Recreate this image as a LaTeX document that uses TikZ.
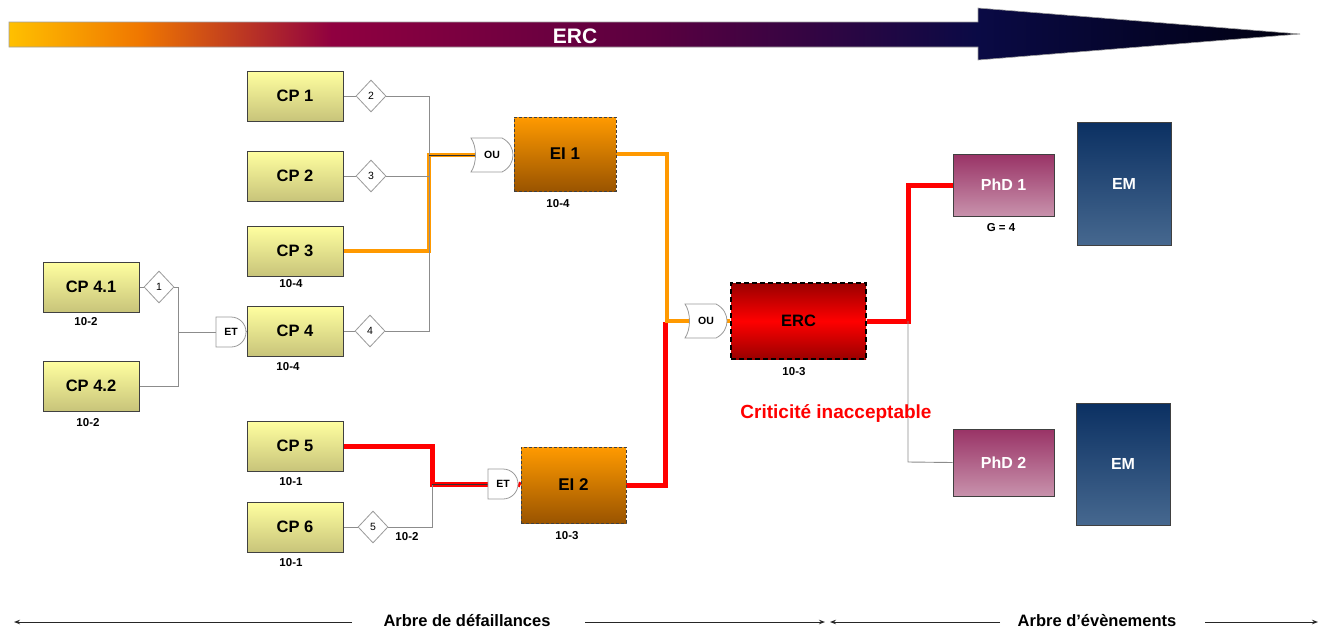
\documentclass[tikz,border=0pt]{standalone}
\usepackage{fontspec}
\setmainfont{Liberation Sans}
\usetikzlibrary{arrows.meta,shapes.geometric}
\definecolor{barA}{HTML}{FFC000}
\definecolor{barB}{HTML}{F07800}
\definecolor{barC}{HTML}{900040}
\definecolor{barD}{HTML}{5A0040}
\definecolor{barE}{HTML}{0A0A45}
\definecolor{barF}{HTML}{000010}
\definecolor{cpTop}{HTML}{FFFFA0}
\definecolor{cpBot}{HTML}{C8C47A}
\definecolor{boxline}{HTML}{404040}
\definecolor{eiTop}{HTML}{FF9A00}
\definecolor{eiBot}{HTML}{9A5400}
\definecolor{ercTop}{HTML}{9A0000}
\definecolor{ercMid}{HTML}{FF0000}
\definecolor{phdTop}{HTML}{993366}
\definecolor{phdBot}{HTML}{C892AC}
\definecolor{emTop}{HTML}{0B3062}
\definecolor{emBot}{HTML}{46688F}
\definecolor{hlOrange}{HTML}{FF9900}
\definecolor{hlRed}{HTML}{FF0000}
\definecolor{connGray}{HTML}{8C8C8C}
\definecolor{diamGray}{HTML}{9A9A9A}
\definecolor{barEdge}{HTML}{A0A0A0}
\pgfdeclarehorizontalshading{ercbar}{100bp}{color(0bp)=(barA); color(25bp)=(barA); color(30bp)=(barB); color(37.5bp)=(barC); color(50bp)=(barD); color(62.5bp)=(barE); color(75bp)=(barF); color(100bp)=(barF)}
\pgfdeclarelayer{bg}\pgfdeclarelayer{mid}\pgfsetlayers{bg,mid,main}
\newcommand\ougatepath{(-21,-17) .. controls (-15,-8) and (-15,8) .. (-21,17) -- (10,17) .. controls (18,13) and (21,6) .. (21,0) .. controls (21,-6) and (18,-13) .. (10,-17) -- cycle}
\newcommand\etgatepath{(-15,-15) -- (0,-15) .. controls (8.3,-15) and (15,-8.3) .. (15,0) .. controls (15,8.3) and (8.3,15) .. (0,15) -- (-15,15) -- cycle}
\begin{document}
\begin{tikzpicture}[x=1pt,y=-1pt,
  cpbox/.style={draw=boxline, line width=1pt, top color=cpTop, bottom color=cpBot, minimum width=96, minimum height=50, inner sep=0, font=\fontsize{16.5}{19}\selectfont\bfseries},
  eibox/.style={draw=boxline, line width=0.9pt, dash pattern=on 3pt off 2pt, top color=eiTop, bottom color=eiBot, inner sep=0, font=\fontsize{17}{19}\selectfont\bfseries},
  ercbox/.style={draw=black, line width=2.4pt, dash pattern=on 5pt off 3pt, top color=ercTop, bottom color=ercTop, middle color=ercMid, inner sep=0, font=\fontsize{16.5}{19}\selectfont\bfseries},
  phdbox/.style={draw=boxline, line width=1pt, top color=phdTop, bottom color=phdBot, inner sep=0, text=white, font=\fontsize{16}{19}\selectfont\bfseries},
  embox/.style={draw=boxline, line width=1pt, top color=emTop, bottom color=emBot, inner sep=0, text=white, font=\fontsize{16}{19}\selectfont\bfseries},
  diam/.style={diamond, draw=diamGray, fill=white, line width=0.8pt, minimum width=30, minimum height=32, inner sep=0, font=\fontsize{10.5}{12}\selectfont},
  gatelbl/.style={inner sep=0, font=\fontsize{10.5}{12}\selectfont\bfseries},
  gateshape/.style={draw=diamGray, fill=white, line width=0.8pt},
  numlbl/.style={inner sep=0, font=\fontsize{11.5}{13}\selectfont\bfseries},
  conn/.style={draw=connGray, line width=0.9pt},
  darkconn/.style={draw=black!80, line width=0.8pt},
  orangeline/.style={draw=hlOrange, line width=4.5pt},
  redline/.style={draw=hlRed, line width=5pt},
  botarrow/.style={draw=black!85, line width=1pt, -{Stealth[length=6pt,width=4.5pt]}},
  botlbl/.style={inner sep=0, font=\fontsize{16.5}{19}\selectfont\bfseries}
]
\useasboundingbox (0,0) rectangle (1326,630);

% top gradient arrow
\shadedraw[shading=ercbar, draw=barEdge, line width=0.6pt] (9,22) -- (978,22) -- (978,8) -- (1300,34) -- (978,60) -- (978,47) -- (9,47) -- cycle;
\node[inner sep=0, text=white, font=\fontsize{21}{23}\selectfont\bfseries] (ttl) at (575,36) {ERC};

% CP boxes
\node[cpbox] (cp1) at (295,96) {CP 1};
\node[cpbox] (cp2) at (295,176) {CP 2};
\node[cpbox] (cp3) at (295,251) {CP 3};
\node[cpbox] (cp4) at (295,331) {CP 4};
\node[cpbox] (cp5) at (295,446) {CP 5};
\node[cpbox] (cp6) at (295,527) {CP 6};
\node[cpbox] (cp41) at (91,287) {CP 4.1};
\node[cpbox] (cp42) at (91,386) {CP 4.2};

% diamonds
\node[diam] (d2) at (371,96) {2};
\node[diam] (d3) at (371,176) {3};
\node[diam] (d4) at (370,331) {4};
\node[diam] (d1) at (159,287) {1};
\node[diam] (d5) at (373,527) {5};

% events
\node[eibox, minimum width=102, minimum height=74] (ei1) at (565,154) {EI 1};
\node[eibox, minimum width=105, minimum height=76] (ei2) at (573.5,485) {EI 2};
\node[ercbox, minimum width=135, minimum height=76] (erc) at (798.5,321) {ERC};
\node[phdbox, minimum width=101, minimum height=62] (phd1) at (1003.5,185) {PhD 1};
\node[phdbox, minimum width=101, minimum height=67] (phd2) at (1003.5,462.5) {PhD 2};
\node[embox, minimum width=94, minimum height=123] (em1) at (1124,183.5) {EM};
\node[embox, minimum width=94, minimum height=122] (em2) at (1123,464) {EM};

% gates
\node[gatelbl, minimum width=33, minimum height=34] (ou1) at (492,155) {OU};
\node[gatelbl, minimum width=33, minimum height=34] (ou2) at (706,321) {OU};
\node[gatelbl, minimum width=30, minimum height=30] (et1) at (231,332) {ET};
\node[gatelbl, minimum width=30, minimum height=30] (et2) at (503,484) {ET};
\begin{pgfonlayer}{mid}
\filldraw[gateshape, shift={(ou1.center)}] \ougatepath;
\filldraw[gateshape, shift={(ou2.center)}] \ougatepath;
\filldraw[gateshape, shift={(et1.center)}] \etgatepath;
\filldraw[gateshape, shift={(et2.center)}] \etgatepath;
\end{pgfonlayer}

% labels
\node[numlbl] (l3) at (291,284) {10-4};
\node[numlbl] (l4) at (288,367) {10-4};
\node[numlbl] (l41) at (86,322) {10-2};
\node[numlbl] (l42) at (88,423) {10-2};
\node[numlbl] (l5) at (291,482) {10-1};
\node[numlbl] (l6) at (291,563) {10-1};
\node[numlbl] (l65) at (407,537) {10-2};
\node[numlbl] (lei1) at (558,204) {10-4};
\node[numlbl] (lei2) at (567,536) {10-3};
\node[numlbl] (lerc) at (794,372) {10-3};
\node[numlbl] (lg) at (1001,228) {G = 4};
\node[inner sep=0, text=hlRed, font=\fontsize{19}{21}\selectfont\bfseries] (crit) at (836,413) {Criticité inacceptable};

% junction coordinates
\coordinate (j1) at (429,96);
\coordinate (j2) at (429,176);
\coordinate (j4) at (429,331);
\coordinate (jo1) at (429,251);
\coordinate (jo2) at (429,155);
\coordinate (jo3) at (667,154);
\coordinate (jo4) at (667,321);
\coordinate (jr1) at (432,446);
\coordinate (jr2) at (432,484);
\coordinate (jr3) at (432,527);
\coordinate (jr4) at (665,485);
\coordinate (jr5) at (665,322);
\coordinate (jk1) at (178,287);
\coordinate (jk2) at (178,386);
\coordinate (jk3) at (178,332);
\coordinate (jp1) at (908,321);
\coordinate (jp2) at (908,185);
\coordinate (jp3) at (908,462);

\begin{pgfonlayer}{bg}
% highlighted paths
\draw[orangeline] (cp3.east) -- (jo1) -- (jo2) -- (ou1.west);
\draw[redline] (ei2.east) -- (jr4) -- (jr5);
\draw[orangeline] (ei1.east) -- (jo3) -- (jo4) -- (ou2.west);
\draw[orangeline] (ou2.east) -- (erc.west);
\draw[redline] (cp5.east) -- (jr1) -- (jr2) -- (et2.west);
\draw[redline] (et2.east) -- (ei2.west);
\draw[redline] (erc.east) -- (jp1) -- (jp2) -- (phd1.west);
% thin connectors
\draw[conn] (cp1.east) -- (d2.west);
\draw[conn] (cp2.east) -- (d3.west);
\draw[conn] (cp4.east) -- (d4.west);
\draw[conn] (d2.east) -- (j1) -- (j4) -- (d4.east);
\draw[conn] (d3.east) -- (j2);
\draw[darkconn] (jo2) -- (ou1.west);
\draw[conn] (cp41.east) -- (d1.west);
\draw[conn] (d1.east) -- (jk1) -- (jk2) -- (cp42.east);
\draw[conn] (jk3) -- (et1.west);
\draw[conn] (et1.east) -- (cp4.west);
\draw[conn] (cp6.east) -- (d5.west);
\draw[conn] (d5.east) -- (jr3) -- (jr2);
\draw[darkconn] (jr2) -- (et2.west);
\draw[conn] (jp1) -- (jp3) -- (phd2.west);
\end{pgfonlayer}

% bottom legend
\node[botlbl] (afd) at (467,621) {Arbre de défaillances};
\node[botlbl] (aev) at (1097,621) {Arbre d'évènements};
\coordinate (b0) at (14,622);
\coordinate (b1) at (352,622);
\coordinate (b2) at (585,622);
\coordinate (b3) at (825,622);
\coordinate (b4) at (1000,622);
\coordinate (b5) at (830,622);
\coordinate (b6) at (1205,622);
\coordinate (b7) at (1318,622);
\draw[botarrow] (b1) -- (b0);
\draw[botarrow] (b2) -- (b3);
\draw[botarrow] (b4) -- (b5);
\draw[botarrow] (b6) -- (b7);
\end{tikzpicture}
\end{document}
